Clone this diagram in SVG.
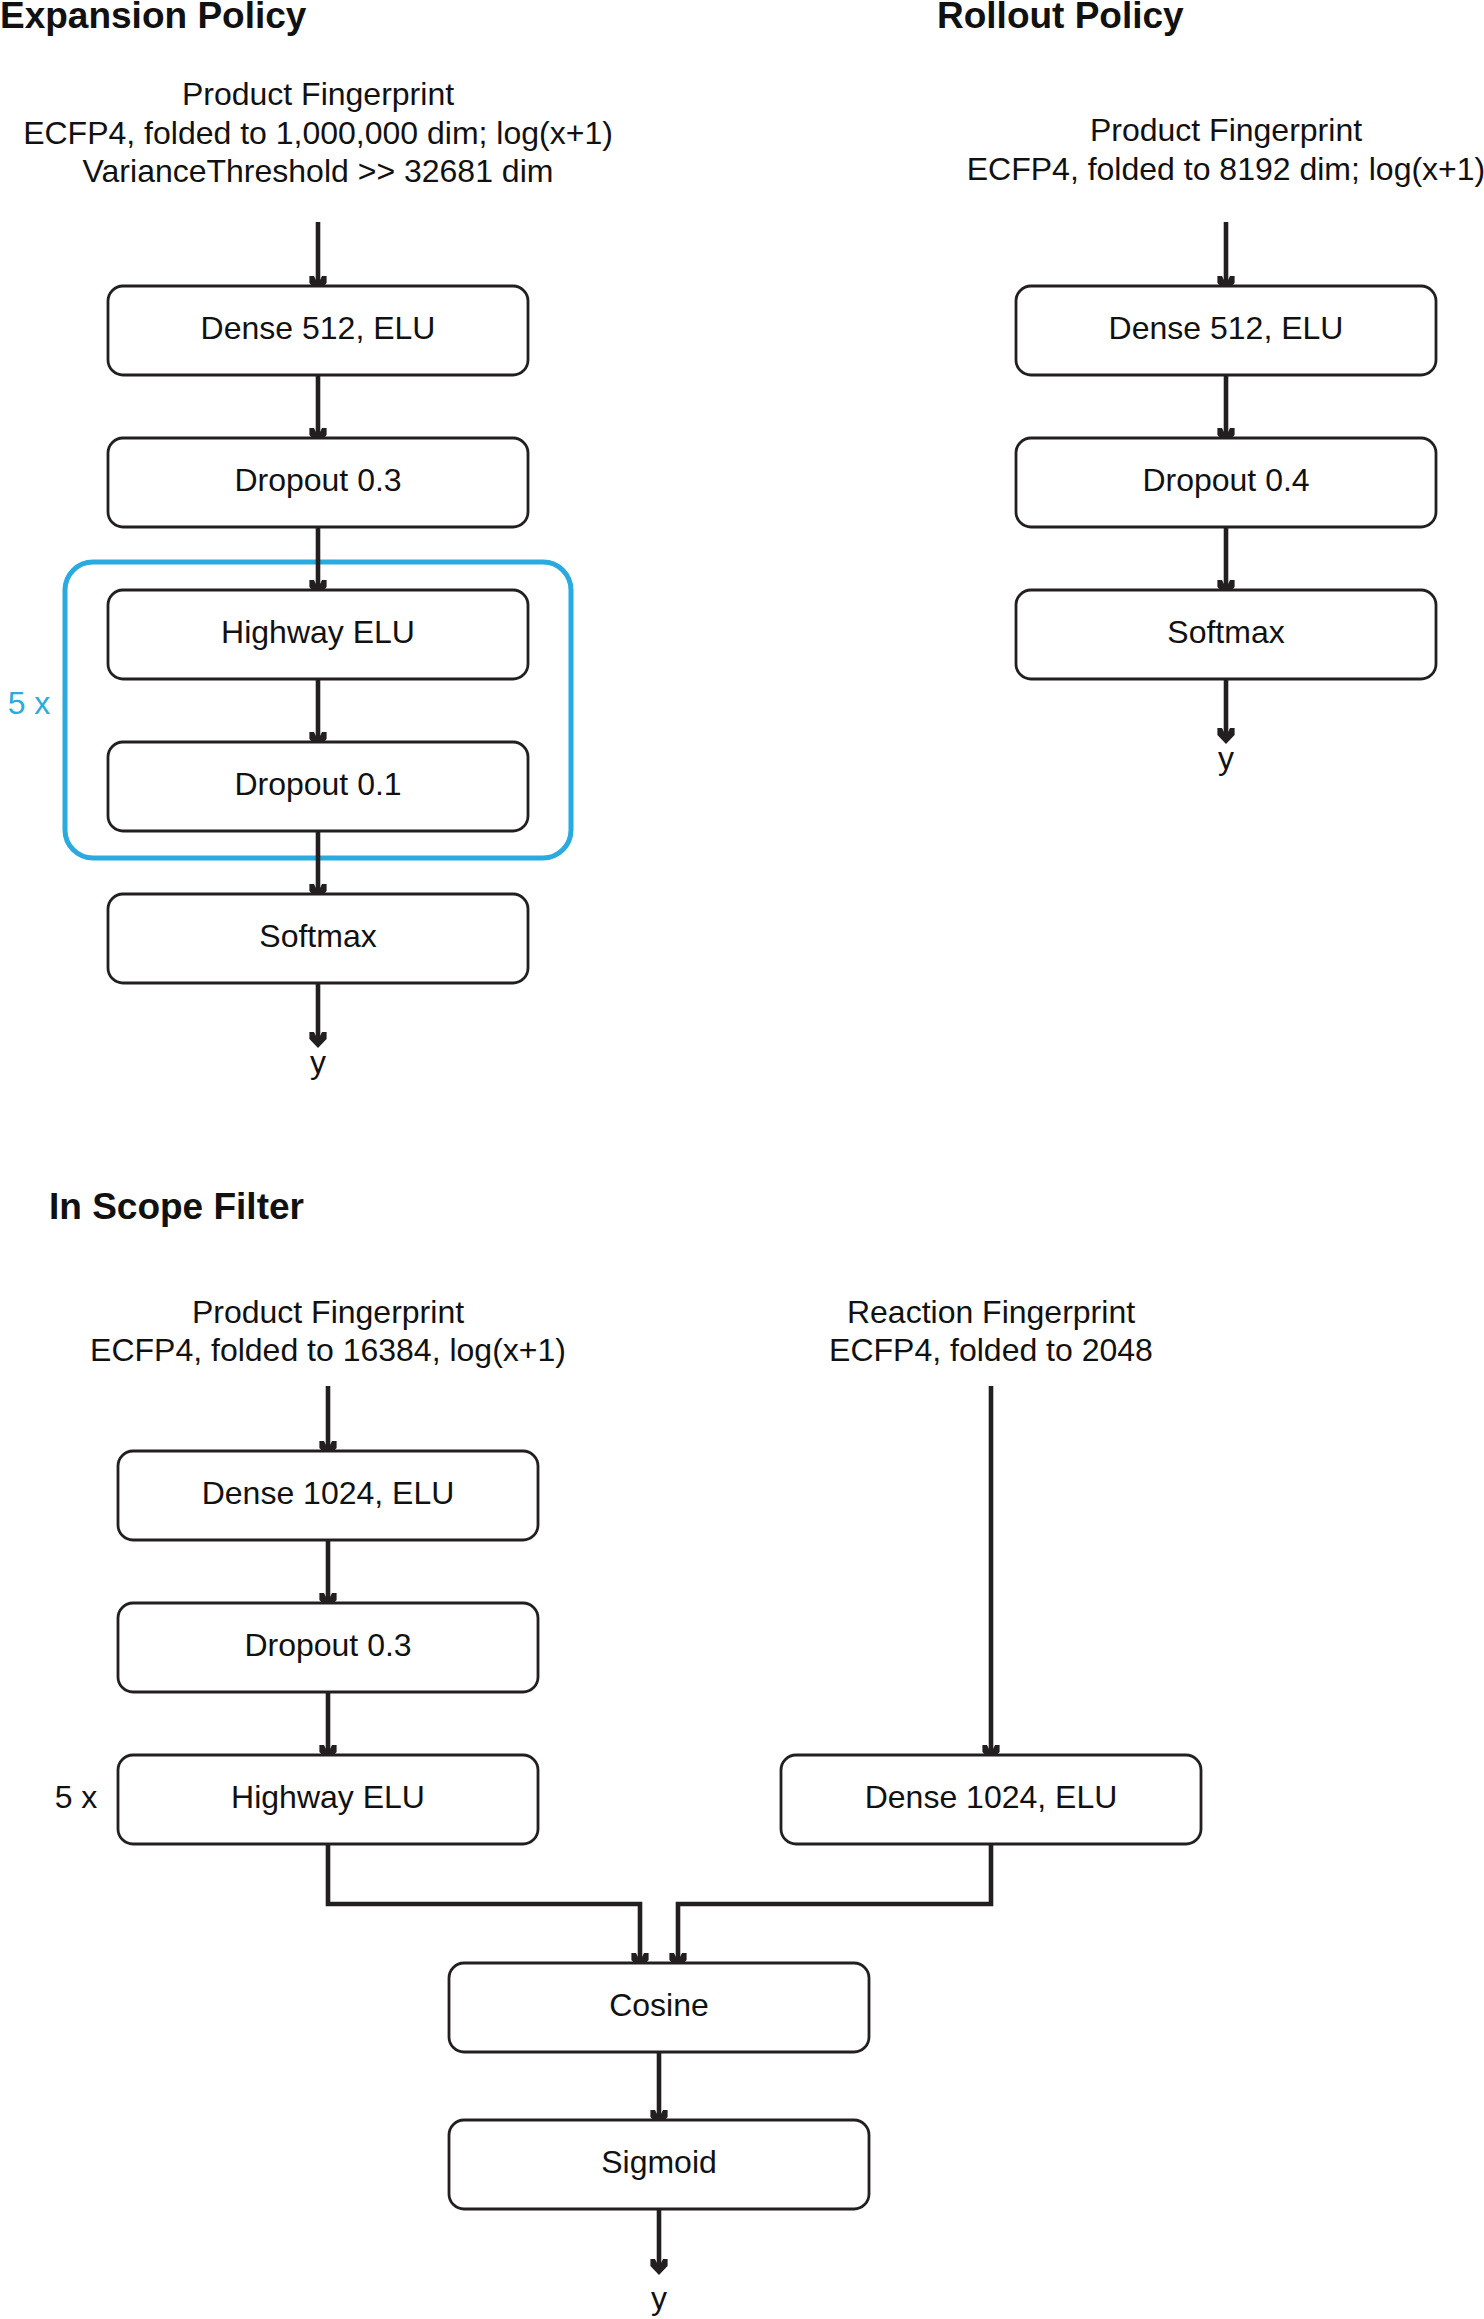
<svg xmlns="http://www.w3.org/2000/svg" width="1484" height="2319" viewBox="0 0 1484 2319">
<defs>
<style>
text{font-family:"Liberation Sans",Arial,Helvetica,sans-serif;fill:#111;}
.t{font-size:32px;text-anchor:middle;}
.h{font-size:37px;font-weight:bold;}
.box{fill:#fff;stroke:#231f20;stroke-width:2.8;}
.c{fill:none;stroke:#231f20;stroke-width:4.6;marker-end:url(#ah);}
.grp{fill:none;stroke:#29abe2;stroke-width:5;}
</style>
<marker id="ah" viewBox="-18 -10 20 20" refX="-6" refY="0" markerWidth="20" markerHeight="20" markerUnits="userSpaceOnUse" orient="auto">
<path d="M0,0 L-9,-8.6 L-16,-8.6 L-16,-4 L-8,0 L-16,4 L-16,8.6 L-9,8.6 Z" fill="#231f20"/>
</marker>
</defs>
<rect width="1484" height="2319" fill="#fff"/>

<text class="h" x="0" y="28">Expansion Policy</text>
<text class="h" x="937" y="28">Rollout Policy</text>
<text class="h" x="49" y="1219">In Scope Filter</text>

<g id="exp-input"><text class="t" x="318" y="104.5">Product Fingerprint</text><text class="t" x="318" y="143.5">ECFP4, folded to 1,000,000 dim; log(x+1)</text><text class="t" x="318" y="182">VarianceThreshold &gt;&gt; 32681 dim</text></g>
<g id="exp-group"><rect class="grp" x="65" y="562" width="506" height="296" rx="28"/><text class="t" x="29" y="714" style="fill:#29abe2">5 x</text></g>

<g id="connectors">
<path class="c" d="M318,222 V286"/>
<path class="c" d="M318,375 V438"/>
<path class="c" d="M318,527 V590"/>
<path class="c" d="M318,679 V742"/>
<path class="c" d="M318,831 V894"/>
<path class="c" d="M318,983 V1042"/>
<path class="c" d="M1226,222 V286"/>
<path class="c" d="M1226,375 V438"/>
<path class="c" d="M1226,527 V590"/>
<path class="c" d="M1226,679 V738"/>
<path class="c" d="M328,1386 V1451"/>
<path class="c" d="M328,1540 V1603"/>
<path class="c" d="M328,1692 V1755"/>
<path class="c" d="M991,1386 V1755"/>
<path class="c" d="M328,1844 V1904 H640 V1963"/>
<path class="c" d="M991,1844 V1904 H678 V1963"/>
<path class="c" d="M659,2052 V2120"/>
<path class="c" d="M659,2209 V2269"/>
</g>

<g id="exp-dense"><rect class="box" x="108" y="286" width="420" height="89" rx="15"/><text class="t" x="318" y="339">Dense 512, ELU</text></g>
<g id="exp-dropout03"><rect class="box" x="108" y="438" width="420" height="89" rx="15"/><text class="t" x="318" y="491">Dropout 0.3</text></g>
<g id="exp-highway"><rect class="box" x="108" y="590" width="420" height="89" rx="15"/><text class="t" x="318" y="643">Highway ELU</text></g>
<g id="exp-dropout01"><rect class="box" x="108" y="742" width="420" height="89" rx="15"/><text class="t" x="318" y="795">Dropout 0.1</text></g>
<g id="exp-softmax"><rect class="box" x="108" y="894" width="420" height="89" rx="15"/><text class="t" x="318" y="947">Softmax</text></g>
<g id="exp-y"><text class="t" x="318" y="1073">y</text></g>

<g id="roll-input"><text class="t" x="1226" y="141">Product Fingerprint</text><text class="t" x="1226" y="180">ECFP4, folded to 8192 dim; log(x+1)</text></g>
<g id="roll-dense"><rect class="box" x="1016" y="286" width="420" height="89" rx="15"/><text class="t" x="1226" y="339">Dense 512, ELU</text></g>
<g id="roll-dropout"><rect class="box" x="1016" y="438" width="420" height="89" rx="15"/><text class="t" x="1226" y="491">Dropout 0.4</text></g>
<g id="roll-softmax"><rect class="box" x="1016" y="590" width="420" height="89" rx="15"/><text class="t" x="1226" y="643">Softmax</text></g>
<g id="roll-y"><text class="t" x="1226" y="769">y</text></g>

<g id="isf-prod-input"><text class="t" x="328" y="1323">Product Fingerprint</text><text class="t" x="328" y="1361">ECFP4, folded to 16384, log(x+1)</text></g>
<g id="isf-rxn-input"><text class="t" x="991" y="1323">Reaction Fingerprint</text><text class="t" x="991" y="1361">ECFP4, folded to 2048</text></g>
<g id="isf-dense-l"><rect class="box" x="118" y="1451" width="420" height="89" rx="15"/><text class="t" x="328" y="1504">Dense 1024, ELU</text></g>
<g id="isf-dropout"><rect class="box" x="118" y="1603" width="420" height="89" rx="15"/><text class="t" x="328" y="1656">Dropout 0.3</text></g>
<g id="isf-highway"><rect class="box" x="118" y="1755" width="420" height="89" rx="15"/><text class="t" x="328" y="1808">Highway ELU</text><text class="t" x="76" y="1808">5 x</text></g>
<g id="isf-dense-r"><rect class="box" x="781" y="1755" width="420" height="89" rx="15"/><text class="t" x="991" y="1808">Dense 1024, ELU</text></g>
<g id="isf-cosine"><rect class="box" x="449" y="1963" width="420" height="89" rx="15"/><text class="t" x="659" y="2016">Cosine</text></g>
<g id="isf-sigmoid"><rect class="box" x="449" y="2120" width="420" height="89" rx="15"/><text class="t" x="659" y="2173">Sigmoid</text></g>
<g id="isf-y"><text class="t" x="659" y="2309">y</text></g>
</svg>
